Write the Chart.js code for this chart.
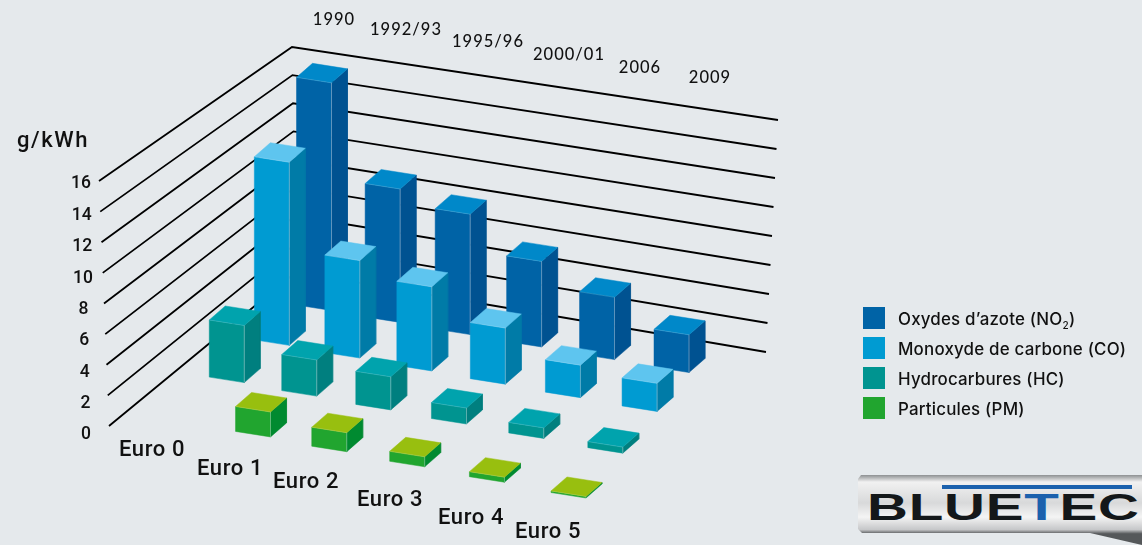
<!DOCTYPE html>
<html>
<head>
<meta charset="utf-8">
<title>Euro</title>
<script src="https://cdn.jsdelivr.net/npm/chart.js@4"></script>
<style>
  html, body { margin: 0; padding: 0; background: #e5e9ec; overflow: hidden; }
  #wrap { position: relative; width: 1142px; height: 545px; overflow: hidden; }
  canvas { position: absolute; left: 0; top: 0; }
  #legend { position: absolute; left: 863px; top: 307px; font: 500 16.9px Inter, sans-serif; letter-spacing: 0.2px; color: #111; }
  #legend div { height: 30px; line-height: 24px; white-space: nowrap; }
  #legend i { display: inline-block; width: 22px; height: 22px; margin-right: 13px; vertical-align: top; }
  #legend sub { font-size: 10px; line-height: 0; }
  #logo { position: absolute; left: 858px; top: 475px; width: 284px; height: 70px;
    background: linear-gradient(180deg, #8d9092 0%, #f1f1f1 10%, #d8d9da 40%, #f4f4f4 60%, #c6c7c9 78%, #55585a 84%);
    clip-path: polygon(3px 0, 284px 0, 284px 70px, 232px 58px, 4px 58px, 0 54px, 0 4px); }
  #logo b { position: absolute; left: 9px; top: 12px; font: bold 37px "Liberation Sans", sans-serif; color: #14181a;
    transform: scaleX(1.53); transform-origin: left top; letter-spacing: 0.5px; white-space: nowrap; }
  #logo b span { color: #1b61ad; }
  #logo u { position: absolute; left: 84px; top: 10px; width: 190px; height: 4px; background: #1b61ad; }
</style>
</head>
<body>
<div id="wrap">
  <canvas id="chart" width="1142" height="545"></canvas>
  <div id="legend"></div>
  <div id="logo"><u></u><b>BLUE<span>T</span>EC</b></div>
</div>
<script>
const eras = ['Euro 0', 'Euro 1', 'Euro 2', 'Euro 3', 'Euro 4', 'Euro 5'];
const years = ['1990', '1992/93', '1995/96', '2000/01', '2006', '2009'];
const ticks = [0, 2, 4, 6, 8, 10, 12, 14, 16];

// g/kWh
const nox = [15.7, 9.2, 8.3, 5.9, 4.3, 2.6];
const co = [12.4, 6.6, 5.7, 3.8, 2.2, 1.9];
const hc = [3.8, 2.4, 2.2, 1.06, 0.7, 0.4];
const pm = [null, 1.63, 1.24, 0.65, 0.33, 0.1];

const seriesNames = ['Oxydes d’azote (NO<sub>2</sub>)', 'Monoxyde de carbone (CO)', 'Hydrocarbures (HC)', 'Particules (PM)'];
const series = [nox, co, hc, pm];
const faces = [
    { front: '#0063a6', top: '#0088c9', side: '#005291' },
    { front: '#009bd2', top: '#5ec5ef', side: '#007ba7' },
    { front: '#009490', top: '#00a3ad', side: '#007f7f' },
    { front: '#21a52f', top: '#98bf0f', side: '#008a30' }
];

// perspective of the floor: era/row to page position (corners of the bar grid)
const q = [[296.5, 305], [654, 367], [551, 492.5], [161, 417]];
const sx = q[0][0] - q[1][0] + q[2][0] - q[3][0];
const sy = q[0][1] - q[1][1] + q[2][1] - q[3][1];
const dx1 = q[1][0] - q[2][0], dx2 = q[3][0] - q[2][0];
const dy1 = q[1][1] - q[2][1], dy2 = q[3][1] - q[2][1];
const den = dx1 * dy2 - dx2 * dy1;
const g = (sx * dy2 - dx2 * sy) / den;
const h = (dx1 * sy - sx * dy1) / den;

function floor(era, row) {
    const u = era / 5, v = row / 3;
    const w = 1 + g * u + h * v;
    return {
        x: (q[0][0] + (q[1][0] - q[0][0] + g * q[1][0]) * u + (q[3][0] - q[0][0] + h * q[3][0]) * v) / w,
        y: (q[0][1] + (q[1][1] - q[0][1] + g * q[1][1]) * u + (q[3][1] - q[0][1] + h * q[3][1]) * v) / w
    };
}

const wide = { x: 35, y: 5.5 };
const deep = { x: 16, y: -14 };

const lerp = (a, b, t) => a + (b - a) * t;
const wallLeft = [[109, 426], [99, 181]];
const wallBack = [[296, 272], [292, 47]];
const wallRight = [[766, 352], [778, 120]];
function wallPoint(wall, v) {
    const t = v / 16;
    return { x: lerp(wall[0][0], wall[1][0], t), y: lerp(wall[0][1], wall[1][1], t) };
}

const datasets = [];

ticks.forEach(v => {
    datasets.push({
        data: [wallPoint(wallLeft, v), wallPoint(wallBack, v), wallPoint(wallRight, v)],
        borderColor: '#000', borderWidth: 1.8, showLine: true, pointRadius: 0
    });
});

function poly(points, color) {
    datasets.push({
        data: points.concat([points[0]]),
        showLine: true, fill: 'shape', backgroundColor: color,
        borderColor: color, borderWidth: 0.5, pointRadius: 0
    });
}

series.forEach((values, row) => {
    values.forEach((v, era) => {
        if (v === null) return;
        const base = floor(era, row);
        const up = v * lerp(14.5, 15.3, row / 3);
        const shift = (p, a, b, c) => ({
            x: p.x + a * wide.x + b * deep.x,
            y: p.y + a * wide.y + b * deep.y - c * up
        });
        const fl = shift(base, 0, 0, 1), fr = shift(base, 1, 0, 1);
        const br = shift(base, 1, 1, 1), bl = shift(base, 0, 1, 1);
        const fl0 = shift(base, 0, 0, 0), fr0 = shift(base, 1, 0, 0), br0 = shift(base, 1, 1, 0);
        poly([fl, fr, fr0, fl0], faces[row].front);
        poly([fr, br, br0, fr0], faces[row].side);
        poly([fl, fr, br, bl], faces[row].top);
        // pale edge where the faces meet
        datasets.push({
            data: [fl, fr, fr0],
            showLine: true, borderColor: 'rgba(255,255,255,0.2)', borderWidth: 0.7, pointRadius: 0
        });
    });
});

// first dataset has to be painted first
datasets.forEach((d, i) => { d.order = datasets.length - i; });

const yearSpots = [[334, 20], [406, 30], [488, 42], [569, 55], [640, 68], [710, 78]];
const eraSpots = [[152, 450], [230, 469], [306, 482], [390, 500], [471, 518], [548, 532]];

const labelPlugin = {
    id: 'labels',
    afterDatasetsDraw(chart) {
        const c = chart.ctx;
        const sxp = chart.scales.x, syp = chart.scales.y;
        c.save();
        c.fillStyle = '#111';
        c.textAlign = 'center';
        c.textBaseline = 'middle';
        c.font = '500 16.5px Lato';
        c.letterSpacing = '1px';
        years.forEach((t, i) => c.fillText(t, sxp.getPixelForValue(yearSpots[i][0]), syp.getPixelForValue(yearSpots[i][1])));
        c.font = '500 22px Roboto';
        c.letterSpacing = '0.6px';
        eras.forEach((t, i) => c.fillText(t, sxp.getPixelForValue(eraSpots[i][0]), syp.getPixelForValue(eraSpots[i][1])));
        c.font = '500 17.5px Roboto';
        c.letterSpacing = '0px';
        ticks.forEach(v => {
            const p = wallPoint(wallLeft, v);
            const t = v / 16;
            c.fillText(String(v), sxp.getPixelForValue(p.x - 18 - 5 * (1 - t)), syp.getPixelForValue(p.y + 3 + 6 * (1 - t)));
        });
        c.font = '500 22px Roboto';
        c.letterSpacing = '1.6px';
        c.fillText('g/kWh', sxp.getPixelForValue(53), syp.getPixelForValue(141));
        c.restore();
    }
};

const chart = new Chart(document.getElementById('chart').getContext('2d'), {
    type: 'scatter',
    data: { datasets: datasets },
    plugins: [labelPlugin],
    options: {
        responsive: false,
        animation: false,
        layout: { padding: 0 },
        plugins: { legend: { display: false }, tooltip: { enabled: false } },
        scales: {
            x: { type: 'linear', min: 0, max: 1142, display: false },
            y: { type: 'linear', min: 0, max: 545, reverse: true, display: false }
        }
    }
});

const legend = document.getElementById('legend');
seriesNames.forEach((name, i) => {
    const row = document.createElement('div');
    row.innerHTML = '<i style="background:' + faces[i].front + '"></i>' + name;
    legend.appendChild(row);
});
</script>
</body>
</html>
